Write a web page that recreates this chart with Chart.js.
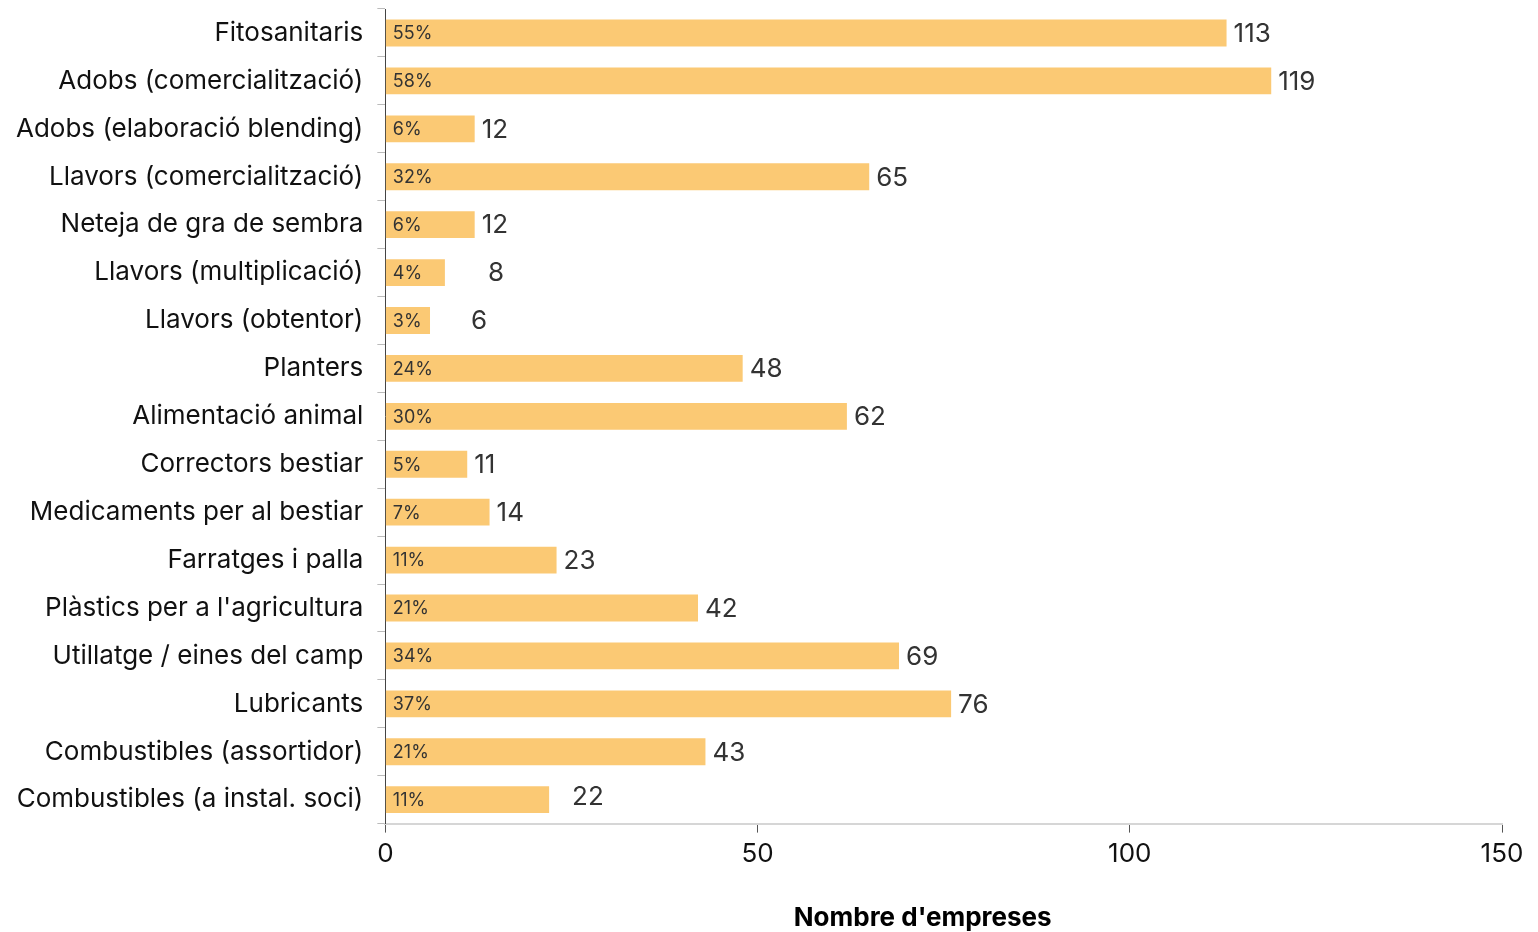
<!DOCTYPE html>
<html>
<head>
<meta charset="utf-8">
<script src="https://cdn.jsdelivr.net/npm/chart.js@4"></script>
<style>
  html, body { margin: 0; padding: 0; background: #fff; }
  #wrap { width: 1538px; height: 932px; }
</style>
</head>
<body>
<div id="wrap"><canvas id="c"></canvas></div>
<script>
const categories = [
    'Fitosanitaris', 'Adobs (comercialització)', 'Adobs (elaboració blending)',
    'Llavors (comercialització)', 'Neteja de gra de sembra', 'Llavors (multiplicació)',
    'Llavors (obtentor)', 'Planters', 'Alimentació animal', 'Correctors bestiar',
    'Medicaments per al bestiar', 'Farratges i palla', "Plàstics per a l'agricultura",
    'Utillatge / eines del camp', 'Lubricants', 'Combustibles (assortidor)',
    'Combustibles (a instal. soci)'
];
const empreses = [113, 119, 12, 65, 12, 8, 6, 48, 62, 11, 14, 23, 42, 69, 76, 43, 22];
const percentatges = ['55%', '58%', '6%', '32%', '6%', '4%', '3%', '24%', '30%', '5%', '7%', '11%', '21%', '34%', '37%', '21%', '11%'];
const xTicks = [0, 50, 100, 150];
const xTitle = "Nombre d'empreses";

// petits desplaçaments d'etiqueta com a l'original (px, estil)
const labelNudgeX = { 5: 36, 6: 34, 16: 16 };
const labelNudgeY = { 16: -3 };

const FONT = 'Inter, "Noto Sans", sans-serif';

const barLabels = {
    id: 'barLabels',
    afterDatasetsDraw(chart) {
        const { ctx } = chart;
        const meta = chart.getDatasetMeta(0);
        ctx.save();
        ctx.textBaseline = 'middle';
        meta.data.forEach((bar, i) => {
            // percentatge dins la barra
            ctx.font = '18px ' + FONT;
            ctx.fillStyle = '#333';
            ctx.textAlign = 'left';
            ctx.fillText(percentatges[i], bar.base + 7, bar.y + 1);
            // valor a la dreta
            ctx.font = '26px ' + FONT;
            ctx.fillStyle = '#333';
            ctx.fillText(String(empreses[i]), bar.x + 7 + (labelNudgeX[i] || 0), bar.y + 1 + (labelNudgeY[i] || 0));
        });
        // títol de l'eix x, una mica desplaçat a l'esquerra com a l'original
        const xs = chart.scales.x;
        ctx.font = 'bold 26px ' + FONT;
        ctx.fillStyle = '#000';
        ctx.textAlign = 'center';
        ctx.fillText(xTitle, (xs.left + xs.right) / 2 - 21, chart.height - 14);
        ctx.restore();
    }
};

new Chart(document.getElementById('c'), {
    type: 'bar',
    data: {
        labels: categories,
        datasets: [{
            data: empreses,
            backgroundColor: '#FBC974',
            borderWidth: 0,
            barPercentage: 0.7,
            categoryPercentage: 0.8,
        }]
    },
    options: {
        indexAxis: 'y',
        responsive: true,
        maintainAspectRatio: false,
        animation: false,
        layout: { padding: { top: 9, right: 36, left: 2, bottom: 0 } },
        scales: {
            x: {
                min: 0,
                max: 150,
                afterBuildTicks(scale) { scale.ticks = xTicks.map(v => ({ value: v })); },
                ticks: { font: { family: FONT, size: 26 }, color: '#111', padding: 6 },
                grid: { display: true, drawOnChartArea: false, tickLength: 9, color: '#555', tickWidth: 1 },
                border: { color: '#d6d6d6', width: 2 },
                title: {
                    display: true,
                    text: xTitle,
                    font: { family: FONT, size: 26, weight: 'bold' },
                    color: 'rgba(0,0,0,0)',
                    padding: { top: 23, bottom: 2 },
                },
                afterFit(scale) {
                    scale.paddingLeft = 0;
                    scale.paddingRight = 0;
                },
            },
            y: {
                ticks: { font: { family: FONT, size: 26 }, color: '#111', padding: 14 },
                grid: { display: true, drawOnChartArea: false, tickLength: 8, color: '#bbb', offset: true },
                border: { color: '#444', width: 1 },
                /* sense marge extra per la meitat de la primera/última etiqueta */
                afterFit(scale) {
                    scale.paddingTop = 0;
                    scale.paddingBottom = 0;
                },
            },
        },
        plugins: {
            legend: { display: false },
            tooltip: { enabled: false },
        },
    },
    plugins: [barLabels],
});
</script>
</body>
</html>
